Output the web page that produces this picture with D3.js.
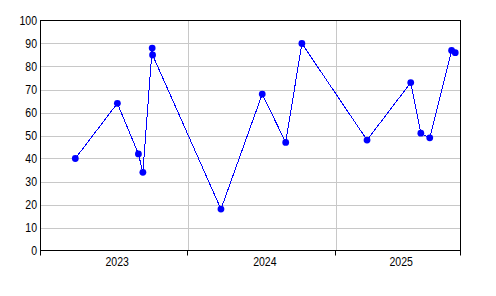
<!DOCTYPE html>
<html>
<head>
<meta charset="utf-8">
<script src="https://cdn.jsdelivr.net/npm/d3@7"></script>
<style>
  html, body { margin: 0; padding: 0; background: #fff; }
  text { font-family: "Liberation Sans", Arial, sans-serif; font-size: 13px; fill: #000; }
</style>
</head>
<body>
<svg id="chart" width="496" height="296"></svg>
<script>
// dates of the points
const dates = [
  "2023-03-29", "2023-07-11", "2023-09-01", "2023-09-12", "2023-10-05", "2023-10-06",
  "2024-03-23", "2024-07-03", "2024-08-30", "2024-10-09",
  "2025-03-19", "2025-07-05", "2025-07-30", "2025-08-21", "2025-10-14", "2025-10-23"
];
const values = [40, 64, 42, 34, 88, 85, 18, 68, 47, 90, 48, 73, 51, 49, 87, 86];
const yearLabels = ["2023", "2024", "2025"];
const xDomain = ["2023-01-02", "2025-11-05"];
const yTicks = [0, 10, 20, 30, 40, 50, 60, 70, 80, 90, 100];

const parse = d3.timeParse("%Y-%m-%d");
const data = dates.map((d, i) => ({ date: parse(d), value: values[i] }));

const margin = { top: 20.5, right: 35.5, bottom: 45.5, left: 40.5 };
const width = 496, height = 296;
const digitW = 5.85; // narrow glyphs like the original
const svg = d3.select("#chart");

const x = d3.scaleTime()
  .domain(xDomain.map(parse))
  .range([margin.left, width - margin.right]);
const y = d3.scaleLinear()
  .domain([0, 100])
  .range([height - margin.bottom, margin.top]);

const x0 = x.range()[0], x1 = x.range()[1];
const y0 = y.range()[0], y1 = y.range()[1];

// horizontal grid
svg.append("g")
  .selectAll("line")
  .data(yTicks.slice(1, -1))
  .join("line")
  .attr("x1", x0).attr("x2", x1)
  .attr("y1", d => Math.round(y(d)) + 0.5).attr("y2", d => Math.round(y(d)) + 0.5)
  .attr("stroke", "#c8c8c8");

// year boundaries
const yearStarts = yearLabels.map(s => parse(s + "-01-01")).filter(d => d > x.domain()[0]);
svg.append("g")
  .selectAll("line")
  .data(yearStarts)
  .join("line")
  .attr("x1", d => Math.round(x(d)) + 0.5).attr("x2", d => Math.round(x(d)) + 0.5)
  .attr("y1", y1).attr("y2", y0)
  .attr("stroke", "#c8c8c8");

// x axis ticks at year boundaries + both ends
const xTickDates = [x.domain()[0], ...yearStarts, x.domain()[1]];
svg.append("g")
  .selectAll("line")
  .data(xTickDates)
  .join("line")
  .attr("x1", d => Math.round(x(d) - 0.5) + 0.5).attr("x2", d => Math.round(x(d) - 0.5) + 0.5)
  .attr("y1", y0).attr("y2", y0 + 5)
  .attr("stroke", "#000");

// year labels centred in their visible span
svg.append("g")
  .selectAll("text")
  .data(yearLabels)
  .join("text")
  .attr("x", s => {
    const a = Math.max(x(parse(s + "-01-01")), x0);
    const b = Math.min(x(parse((+s + 1) + "-01-01")), x1);
    return (a + b) / 2 + 3;
  })
  .attr("y", y0 + 15.5)
  .attr("text-anchor", "middle")
  .attr("textLength", d => d.length * digitW)
  .attr("lengthAdjust", "spacingAndGlyphs")
  .text(d => d);

// y labels
svg.append("g")
  .selectAll("text")
  .data(yTicks)
  .join("text")
  .attr("x", x0 - 3.5)
  .attr("y", d => y(d))
  .attr("dy", "0.36em")
  .attr("text-anchor", "end")
  .attr("textLength", d => String(d).length * digitW)
  .attr("lengthAdjust", "spacingAndGlyphs")
  .text(d => d);

// frame
svg.append("rect")
  .attr("x", x0).attr("y", y1)
  .attr("width", x1 - x0).attr("height", y0 - y1)
  .attr("fill", "none")
  .attr("stroke", "#000");

// series
const line = d3.line().x(d => x(d.date)).y(d => y(d.value));
svg.append("path")
  .datum(data)
  .attr("d", line)
  .attr("fill", "none")
  .attr("stroke", "#0000ff")
  .attr("stroke-width", 1)
  .attr("shape-rendering", "crispEdges");

svg.append("g")
  .selectAll("circle")
  .data(data)
  .join("circle")
  .attr("cx", d => x(d.date))
  .attr("cy", d => y(d.value))
  .attr("r", 3.4)
  .attr("fill", "#0000ff");
</script>
</body>
</html>
